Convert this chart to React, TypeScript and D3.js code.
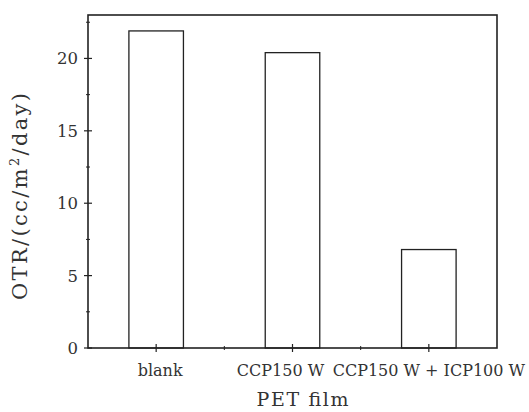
import React from "react";
import * as d3 from "d3";

const categories = ["blank", "CCP150 W", "CCP150 W + ICP100 W"];
const otrValues = [21.9, 20.4, 6.8];
const yTicks = [0, 5, 10, 15, 20];
const yMinorTicks = [2.5, 7.5, 12.5, 17.5, 22.5];

const W = 529;
const H = 412;
const M = { left: 88, top: 15, right: 32, bottom: 64 };
const FONT = "'DejaVu Serif', serif";
const labelDx = [4, -12, 0];

export default function App() {
  const x = d3
    .scaleBand<string>()
    .domain(categories)
    .range([M.left, W - M.right])
    .paddingInner(0.6)
    .paddingOuter(0.3);
  const y = d3.scaleLinear().domain([0, 23]).range([H - M.bottom, M.top]);
  const step = x.step();
  const bottom = H - M.bottom;
  const centers = categories.map((c) => (x(c) as number) + x.bandwidth() / 2);
  const xMinor = centers.slice(0, -1).map((c) => c + step / 2);

  return (
    <svg
      width={W}
      height={H}
      style={{ position: "absolute", left: 0, top: 0, background: "#fff" }}
      fontFamily={FONT}
    >
      {categories.map((c, i) => (
        <rect
          key={c}
          x={x(c)}
          y={y(otrValues[i])}
          width={x.bandwidth()}
          height={bottom - y(otrValues[i])}
          fill="#fff"
          stroke="#222"
          strokeWidth={1.3}
        />
      ))}
      <rect
        x={M.left}
        y={M.top}
        width={W - M.left - M.right}
        height={bottom - M.top}
        fill="none"
        stroke="#222"
        strokeWidth={1.6}
      />
      {yTicks.map((t) => (
        <g key={t}>
          <line x1={M.left - 4} x2={M.left + 4} y1={y(t)} y2={y(t)} stroke="#222" strokeWidth={1.2} />
          <text x={M.left - 10} y={y(t)} dy="0.36em" textAnchor="end" fontSize={16.5} fill="#333">
            {t}
          </text>
        </g>
      ))}
      {yMinorTicks.map((t) => (
        <line key={t} x1={M.left - 2} x2={M.left + 2} y1={y(t)} y2={y(t)} stroke="#222" strokeWidth={1} />
      ))}
      {centers.map((c, i) => (
        <g key={i}>
          <line x1={c} x2={c} y1={bottom - 4} y2={bottom + 4} stroke="#222" strokeWidth={1.2} />
          <text
            x={c + labelDx[i]}
            y={bottom + 28}
            textAnchor="middle"
            fontSize={16}
            fill="#333"
          >
            {categories[i]}
          </text>
        </g>
      ))}
      {xMinor.map((c, i) => (
        <line key={i} x1={c} x2={c} y1={bottom - 2} y2={bottom + 2} stroke="#222" strokeWidth={1} />
      ))}
      <text
        x={302.5}
        y={H - 6}
        textAnchor="middle"
        fontSize={19}
        fill="#333"
        textLength={92}
        lengthAdjust="spacing"
      >
        PET film
      </text>
      <text
        transform={`translate(27, ${196.5}) rotate(-90)`}
        textAnchor="middle"
        fontSize={21}
        fill="#333"
        textLength={207}
        lengthAdjust="spacing"
      >
        OTR/(cc/m<tspan dy="-8" fontSize={13}>2</tspan>
        <tspan dy="8">/day)</tspan>
      </text>
    </svg>
  );
}
